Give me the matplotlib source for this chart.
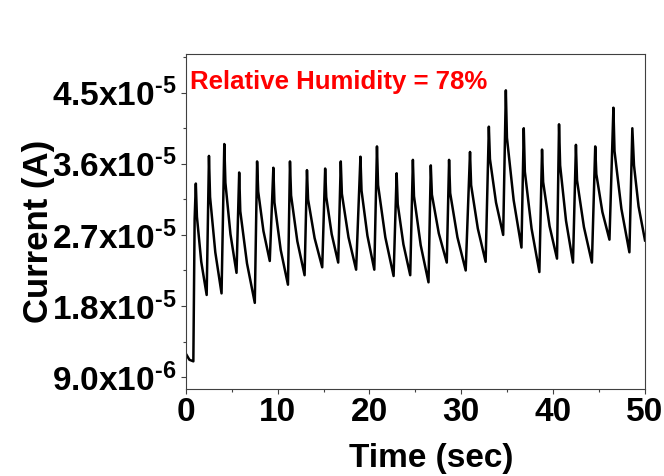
import matplotlib
matplotlib.use('Agg')
import matplotlib.pyplot as plt
import numpy as np
from matplotlib.ticker import FixedLocator, MultipleLocator

# time in s, current in units of 1e-5 A
time = [0.10, 0.40, 0.83, 0.90, 0.97, 1.10,
        1.22, 1.69, 2.28,
        2.53, 2.65, 3.22, 3.90,
        4.20, 4.32, 4.87, 5.53,
        5.82, 5.94, 6.67, 7.52,
        7.77, 7.89, 8.46, 9.15,
        9.54, 9.66, 10.34, 11.13,
        11.35, 11.47, 12.15, 12.94,
        13.20, 13.32, 14.03, 14.86,
        15.18, 15.30, 15.89, 16.60,
        16.88, 17.00, 17.72, 18.55,
        19.02, 19.14, 19.78, 20.53,
        20.82, 20.94, 21.73, 22.63,
        22.96, 23.08, 23.70, 24.44,
        24.73, 24.85, 25.58, 26.43,
        26.68, 26.80, 27.55, 28.42,
        28.67, 28.79, 29.58, 30.48,
        30.95, 31.07, 31.80, 32.65,
        33.00, 33.12, 33.78, 34.56,
        34.85, 34.97, 35.70, 36.55,
        36.80, 36.92, 37.65, 38.50,
        38.79, 38.91, 39.61, 40.42,
        40.64, 40.76, 41.40, 42.16,
        42.48, 42.60, 43.35, 44.22,
        44.58, 44.70, 45.36, 46.13,
        46.56, 46.68, 47.43, 48.30,
        48.62, 48.80, 49.30, 50.00]

current = [1.18, 1.12, 1.10, 2.00, 2.90, 3.35,
           2.93, 2.36, 1.94,
           3.70, 3.18, 2.48, 1.96,
           3.85, 3.36, 2.71, 2.22,
           3.49, 3.00, 2.34, 1.84,
           3.63, 3.25, 2.75, 2.37,
           3.55, 3.11, 2.51, 2.07,
           3.63, 3.20, 2.62, 2.19,
           3.52, 3.15, 2.66, 2.29,
           3.54, 3.18, 2.71, 2.35,
           3.63, 3.22, 2.67, 2.26,
           3.69, 3.26, 2.69, 2.26,
           3.82, 3.33, 2.67, 2.18,
           3.48, 3.09, 2.58, 2.19,
           3.65, 3.19, 2.57, 2.10,
           3.58, 3.21, 2.72, 2.35,
           3.65, 3.23, 2.67, 2.25,
           3.75, 3.33, 2.78, 2.36,
           4.07, 3.66, 3.11, 2.70,
           4.53, 3.93, 3.14, 2.54,
           4.05, 3.50, 2.78, 2.23,
           3.78, 3.37, 2.81, 2.40,
           4.10, 3.58, 2.88, 2.35,
           3.84, 3.39, 2.80, 2.35,
           3.82, 3.47, 2.99, 2.64,
           4.31, 3.76, 3.03, 2.48,
           4.05, 3.58, 3.06, 2.63]

yticks = [9.0e-6, 1.8e-5, 2.7e-5, 3.6e-5, 4.5e-5]
yticklabels = ['9.0x10$^{\u20106}$', '1.8x10$^{\u20105}$', '2.7x10$^{\u20105}$',
               '3.6x10$^{\u20105}$', '4.5x10$^{\u20105}$']
xticks = [0, 10, 20, 30, 40, 50]

plt.rcParams['font.family'] = 'Liberation Sans'
plt.rcParams['font.weight'] = 'bold'
plt.rcParams['mathtext.fontset'] = 'custom'
plt.rcParams['mathtext.rm'] = 'Liberation Sans:bold'
plt.rcParams['mathtext.it'] = 'Liberation Sans:bold'
plt.rcParams['mathtext.bf'] = 'Liberation Sans:bold'

fig = plt.figure(figsize=(6.64, 4.76), dpi=100)
ax = fig.add_axes([0.2797, 0.1828, 0.6917, 0.7038])

ax.plot(time, np.array(current) * 1e-5, color='black', linewidth=1.8)

ax.set_xlim(0, 50)
ax.set_ylim(0.75e-5, 4.99e-5)

ax.xaxis.set_major_locator(FixedLocator(xticks))
ax.xaxis.set_minor_locator(MultipleLocator(5))
ax.set_xticklabels([str(x) for x in xticks], fontsize=24, fontweight='bold')
ax.yaxis.set_major_locator(FixedLocator(yticks))
ax.yaxis.set_minor_locator(MultipleLocator(4.5e-6))
ax.set_yticklabels(yticklabels, fontsize=24, fontweight='bold')

sc = '#404040'
for s in ax.spines.values():
    s.set_color(sc)
    s.set_linewidth(0.8)
ax.tick_params(which='major', direction='out', length=3.6, width=0.8, color=sc)
ax.tick_params(which='minor', direction='out', length=2.2, width=0.8, color=sc)
ax.tick_params(axis='x', pad=2)
ax.tick_params(axis='y', pad=3)

ax.set_xlabel('Time (sec)', fontsize=24, fontweight='bold')
ax.set_ylabel('Current (A)', fontsize=25, fontweight='bold')
ax.xaxis.set_label_coords(0.534, -0.162)
ax.yaxis.set_label_coords(-0.285, 0.47)

ax.text(0.010, 0.915, 'Relative Humidity = 78%', color='#ff0000', fontsize=18.5,
        fontweight='bold', ha='left', va='center', transform=ax.transAxes)

plt.savefig('out.png', dpi=100)
